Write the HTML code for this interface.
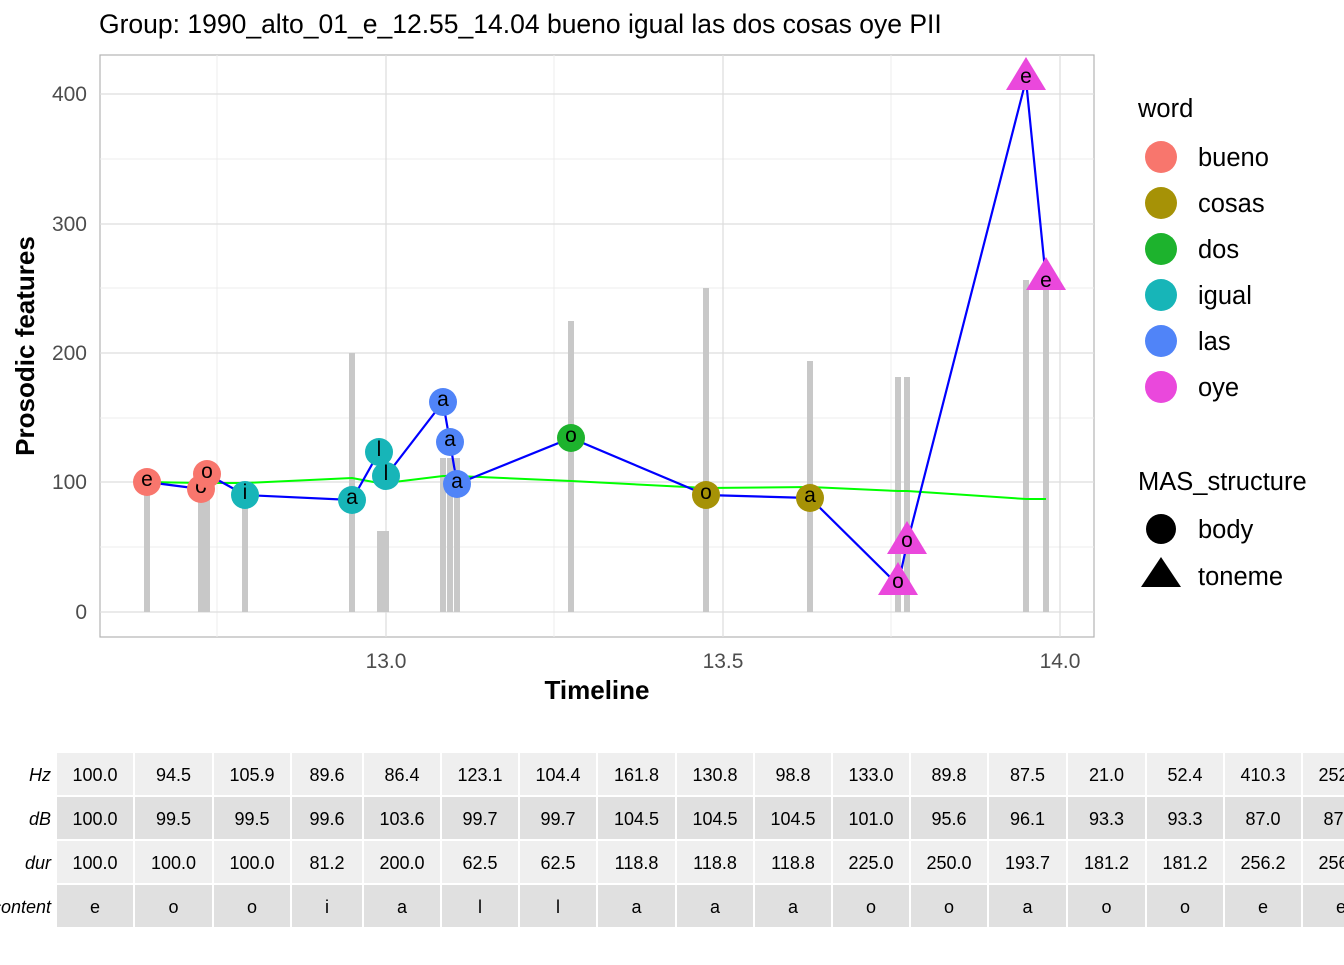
<!DOCTYPE html><html><head><style>body{margin:0;background:#fff}svg text{font-family:"Liberation Sans",Arial,sans-serif}</style></head><body>
<svg width="1344" height="960" xmlns="http://www.w3.org/2000/svg">
<text x="99" y="33" font-size="26.5" fill="#000">Group: 1990_alto_01_e_12.55_14.04 bueno igual las dos cosas oye PII</text>
<rect x="100" y="55" width="994" height="582" fill="#fff" stroke="#b3b3b3" stroke-width="1.2"/>
<g stroke="#ececec" stroke-width="1">
<line x1="100" x2="1094" y1="159" y2="159"/><line x1="100" x2="1094" y1="288" y2="288"/><line x1="100" x2="1094" y1="418" y2="418"/><line x1="100" x2="1094" y1="547" y2="547"/>
<line x1="217" x2="217" y1="55" y2="637"/><line x1="554" x2="554" y1="55" y2="637"/><line x1="891" x2="891" y1="55" y2="637"/>
</g>
<g stroke="#dedede" stroke-width="1.3">
<line x1="100" x2="1094" y1="94" y2="94"/><line x1="100" x2="1094" y1="224" y2="224"/><line x1="100" x2="1094" y1="353" y2="353"/><line x1="100" x2="1094" y1="482" y2="482"/><line x1="100" x2="1094" y1="612" y2="612"/>
<line x1="386" x2="386" y1="55" y2="637"/><line x1="723" x2="723" y1="55" y2="637"/><line x1="1060" x2="1060" y1="55" y2="637"/>
</g>
<g fill="#c8c8c8">
<rect x="144" y="482" width="6" height="130"/><rect x="198" y="482" width="6" height="130"/><rect x="204" y="482" width="6" height="130"/>
<rect x="242" y="507" width="6" height="105"/><rect x="349" y="353" width="6" height="259"/>
<rect x="377" y="531" width="6" height="81"/><rect x="383" y="531" width="6" height="81"/>
<rect x="440" y="458" width="6" height="154"/><rect x="447" y="458" width="6" height="154"/><rect x="454" y="458" width="6" height="154"/>
<rect x="568" y="321" width="6" height="291"/><rect x="703" y="288" width="6" height="324"/><rect x="807" y="361" width="6" height="251"/>
<rect x="895" y="377" width="6" height="235"/><rect x="904" y="377" width="6" height="235"/>
<rect x="1023" y="280" width="6" height="332"/><rect x="1043" y="280" width="6" height="332"/>
</g>
<polyline fill="none" stroke="#00ff00" stroke-width="2" points="147,482 201,483 207,483 245,483 352,478 379,483 386,483 443,476 450,476 457,476 571,481 706,488 810,487 898,491 907,491 1026,499 1046,499"/>
<polyline fill="none" stroke="#0000ff" stroke-width="2.2" points="147,482 201,489 207,474 245,495 352,500 379,452 386,476 443,402 450,442 457,484 571,438 706,495 810,498 898,585 907,544 1026,80 1046,280"/>
<g font-size="21" text-anchor="middle" fill="#000">
<circle cx="147" cy="482" r="14" fill="#F8766D"/><text x="147" y="486">e</text>
<circle cx="201" cy="489" r="14" fill="#F8766D"/><text x="201" y="493">o</text>
<circle cx="207" cy="474" r="14" fill="#F8766D"/><text x="207" y="478">o</text>
<circle cx="245" cy="495" r="14" fill="#17B5B8"/><text x="245" y="499">i</text>
<circle cx="352" cy="500" r="14" fill="#17B5B8"/><text x="352" y="504">a</text>
<circle cx="379" cy="452" r="14" fill="#17B5B8"/><text x="379" y="456">l</text>
<circle cx="386" cy="476" r="14" fill="#17B5B8"/><text x="386" y="480">l</text>
<circle cx="443" cy="402" r="14" fill="#5084F8"/><text x="443" y="406">a</text>
<circle cx="450" cy="442" r="14" fill="#5084F8"/><text x="450" y="446">a</text>
<circle cx="457" cy="484" r="14" fill="#5084F8"/><text x="457" y="488">a</text>
<circle cx="571" cy="438" r="14" fill="#1DB32D"/><text x="571" y="442">o</text>
<circle cx="706" cy="495" r="14" fill="#A69206"/><text x="706" y="499">o</text>
<circle cx="810" cy="498" r="14" fill="#A69206"/><text x="810" y="502">a</text>
<polygon points="898,562 878,595 918,595" fill="#EA48DC"/><text x="898" y="588">o</text>
<polygon points="907,521 887,554 927,554" fill="#EA48DC"/><text x="907" y="547">o</text>
<polygon points="1026,57 1006,90 1046,90" fill="#EA48DC"/><text x="1026" y="83">e</text>
<polygon points="1046,257 1026,290 1066,290" fill="#EA48DC"/><text x="1046" y="287">e</text>
</g>
<g font-size="21" fill="#4d4d4d" text-anchor="end">
<text x="87" y="101">400</text><text x="87" y="231">300</text><text x="87" y="360">200</text><text x="87" y="489">100</text><text x="87" y="619">0</text>
</g>
<g font-size="21" fill="#4d4d4d" text-anchor="middle"><text x="386" y="668">13.0</text><text x="723" y="668">13.5</text><text x="1060" y="668">14.0</text></g>
<text x="597" y="699" font-size="26" font-weight="bold" text-anchor="middle">Timeline</text>
<text transform="translate(34,346) rotate(-90)" font-size="26" font-weight="bold" text-anchor="middle">Prosodic features</text>
<g font-size="25.5">
<text x="1138" y="117">word</text>
<circle cx="1161" cy="157" r="16" fill="#F8766D"/><text x="1198" y="166">bueno</text>
<circle cx="1161" cy="203" r="16" fill="#A69206"/><text x="1198" y="212">cosas</text>
<circle cx="1161" cy="249" r="16" fill="#1DB32D"/><text x="1198" y="258">dos</text>
<circle cx="1161" cy="295" r="16" fill="#17B5B8"/><text x="1198" y="304">igual</text>
<circle cx="1161" cy="341" r="16" fill="#5084F8"/><text x="1198" y="350">las</text>
<circle cx="1161" cy="387" r="16" fill="#EA48DC"/><text x="1198" y="396">oye</text>
<text x="1138" y="490">MAS_structure</text>
<circle cx="1161" cy="529" r="15" fill="#000"/><text x="1198" y="538">body</text>
<polygon points="1161,557 1141,587 1181,587" fill="#000"/><text x="1198" y="585">toneme</text>
</g>
<g font-size="18" font-style="italic" text-anchor="end">
<text x="51" y="781">Hz</text><text x="51" y="825">dB</text><text x="51" y="869">dur</text><text x="51" y="913">content</text>
</g>
<g id="tbl" font-size="18" text-anchor="middle"></g>
</svg>
<script>
var H=["100.0","94.5","105.9","89.6","86.4","123.1","104.4","161.8","130.8","98.8","133.0","89.8","87.5","21.0","52.4","410.3","252.4"];
var D=["100.0","99.5","99.5","99.6","103.6","99.7","99.7","104.5","104.5","104.5","101.0","95.6","96.1","93.3","93.3","87.0","87.0"];
var U=["100.0","100.0","100.0","81.2","200.0","62.5","62.5","118.8","118.8","118.8","225.0","250.0","193.7","181.2","181.2","256.2","256.2"];
var C=["e","o","o","i","a","l","l","a","a","a","o","o","a","o","o","e","e"];
var X=[57,135,214,292,364,442,520,598,677,755,833,911,989,1068,1147,1225,1303,1381];
var rows=[H,D,U,C],cols=["#efefef","#e0e0e0","#efefef","#e0e0e0"],g=document.getElementById("tbl"),s="";
for(var r=0;r<4;r++)for(var i=0;i<17;i++){var x=X[i],w=X[i+1]-X[i]-2,y=753+r*44;
s+='<rect x="'+x+'" y="'+y+'" width="'+w+'" height="42" fill="'+cols[r]+'"/><text x="'+(x+w/2)+'" y="'+(y+28)+'">'+rows[r][i]+'</text>';}
g.innerHTML=s;
</script>
</body></html>
